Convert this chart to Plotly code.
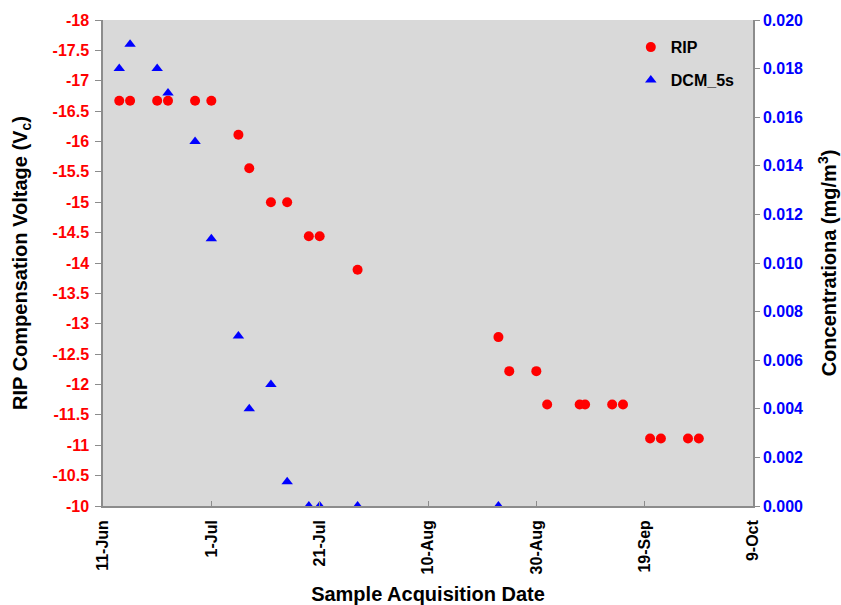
import plotly.graph_objects as go

# ---- data ----
rip_dates = ["2009-06-14", "2009-06-16", "2009-06-21", "2009-06-23", "2009-06-28",
             "2009-07-01", "2009-07-06", "2009-07-08", "2009-07-12", "2009-07-15",
             "2009-07-19", "2009-07-21", "2009-07-28", "2009-08-23", "2009-08-25",
             "2009-08-30", "2009-09-01", "2009-09-07", "2009-09-08", "2009-09-13",
             "2009-09-15", "2009-09-20", "2009-09-22", "2009-09-27", "2009-09-29"]
rip_voltage = [-16.67, -16.67, -16.67, -16.67, -16.67,
               -16.67, -16.11, -15.56, -15.0, -15.0,
               -14.44, -14.44, -13.89, -12.78, -12.22,
               -12.22, -11.67, -11.67, -11.67, -11.67,
               -11.67, -11.11, -11.11, -11.11, -11.11]

dcm_dates = ["2009-06-14", "2009-06-16", "2009-06-21", "2009-06-23", "2009-06-28",
             "2009-07-01", "2009-07-06", "2009-07-08", "2009-07-12", "2009-07-15",
             "2009-07-19", "2009-07-21", "2009-07-28", "2009-08-23"]
dcm_conc = [0.018, 0.019, 0.018, 0.017, 0.015,
            0.011, 0.007, 0.004, 0.005, 0.001,
            0.0, 0.0, 0.0, 0.0]

x_tick_vals = ["2009-06-11", "2009-07-01", "2009-07-21", "2009-08-10",
               "2009-08-30", "2009-09-19", "2009-10-09"]
x_tick_text = ["11-Jun", "1-Jul", "21-Jul", "10-Aug", "30-Aug", "19-Sep", "9-Oct"]

left_tick_vals = [-18, -17.5, -17, -16.5, -16, -15.5, -15, -14.5, -14, -13.5,
                  -13, -12.5, -12, -11.5, -11, -10.5, -10]
left_tick_text = ["-18", "-17.5", "-17", "-16.5", "-16", "-15.5", "-15", "-14.5", "-14",
                  "-13.5", "-13", "-12.5", "-12", "-11.5", "-11", "-10.5", "-10"]

FONT = "Liberation Sans"
AXIS_COLOR = "#8c8c8c"

fig = go.Figure()
fig.add_trace(go.Scatter(
    x=rip_dates, y=rip_voltage, mode="markers", name="RIP",
    marker=dict(symbol="circle", size=10, color="#ff0000"),
    yaxis="y", legendgroup="a"))
fig.add_trace(go.Scatter(
    x=dcm_dates, y=dcm_conc, mode="markers", name="DCM_5s",
    marker=dict(symbol="triangle-up", size=10, color="#0000ff"),
    yaxis="y2", legendgroup="b"))

fig.update_layout(
    width=841, height=605,
    margin=dict(l=103, r=88, t=20, b=99),
    paper_bgcolor="white",
    plot_bgcolor="#d9d9d9",
    font=dict(family=FONT, size=16, color="black", weight="bold"),
    showlegend=True,
    legend=dict(x=0.812, y=0.979, xanchor="left", yanchor="top",
                bgcolor="rgba(0,0,0,0)", borderwidth=0,
                font=dict(family=FONT, size=16, color="black", weight="bold"),
                tracegroupgap=9, traceorder="grouped"),
    xaxis=dict(
        type="date", automargin=False,
        range=["2009-06-11", "2009-10-09"],
        tickvals=x_tick_vals, ticktext=x_tick_text,
        tickangle=-90,
        ticks="inside", ticklen=5, tickcolor=AXIS_COLOR,
        ticklabelstandoff=6,
        showline=True, linecolor=AXIS_COLOR, linewidth=1.5,
        showgrid=False, zeroline=False,
        tickfont=dict(family=FONT, size=16, color="black", weight="bold"),
        title=dict(text="Sample Acquisition Date",
                   font=dict(family=FONT, size=20, color="black", weight="bold"),
                   standoff=18),
    ),
    yaxis=dict(
        range=[-10, -18], automargin=False,
        tickvals=left_tick_vals, ticktext=left_tick_text,
        ticks="outside", ticklen=6, tickcolor=AXIS_COLOR,
        ticklabelstandoff=3,
        showline=True, linecolor=AXIS_COLOR, linewidth=1.5,
        showgrid=False, zeroline=False,
        tickfont=dict(family=FONT, size=16, color="#ff0000", weight="bold"),
        title=dict(text="RIP Compensation Voltage (V<sub>c</sub>)",
                   font=dict(family=FONT, size=20, color="black", weight="bold"),
                   standoff=20),
    ),
    yaxis2=dict(
        overlaying="y", side="right", anchor="x", automargin=False,
        range=[0, 0.020], dtick=0.002, tick0=0, tickformat=".3f",
        ticks="outside", ticklen=5, tickcolor=AXIS_COLOR,
        showline=True, linecolor=AXIS_COLOR, linewidth=1.5,
        showgrid=False, zeroline=False,
        tickfont=dict(family=FONT, size=16, color="#0000ff", weight="bold"),
        title=dict(text="Concentrationa (mg/m<sup>3</sup>)",
                   font=dict(family=FONT, size=20, color="black", weight="bold"),
                   standoff=20),
    ),
)

fig.write_html("out.html")
